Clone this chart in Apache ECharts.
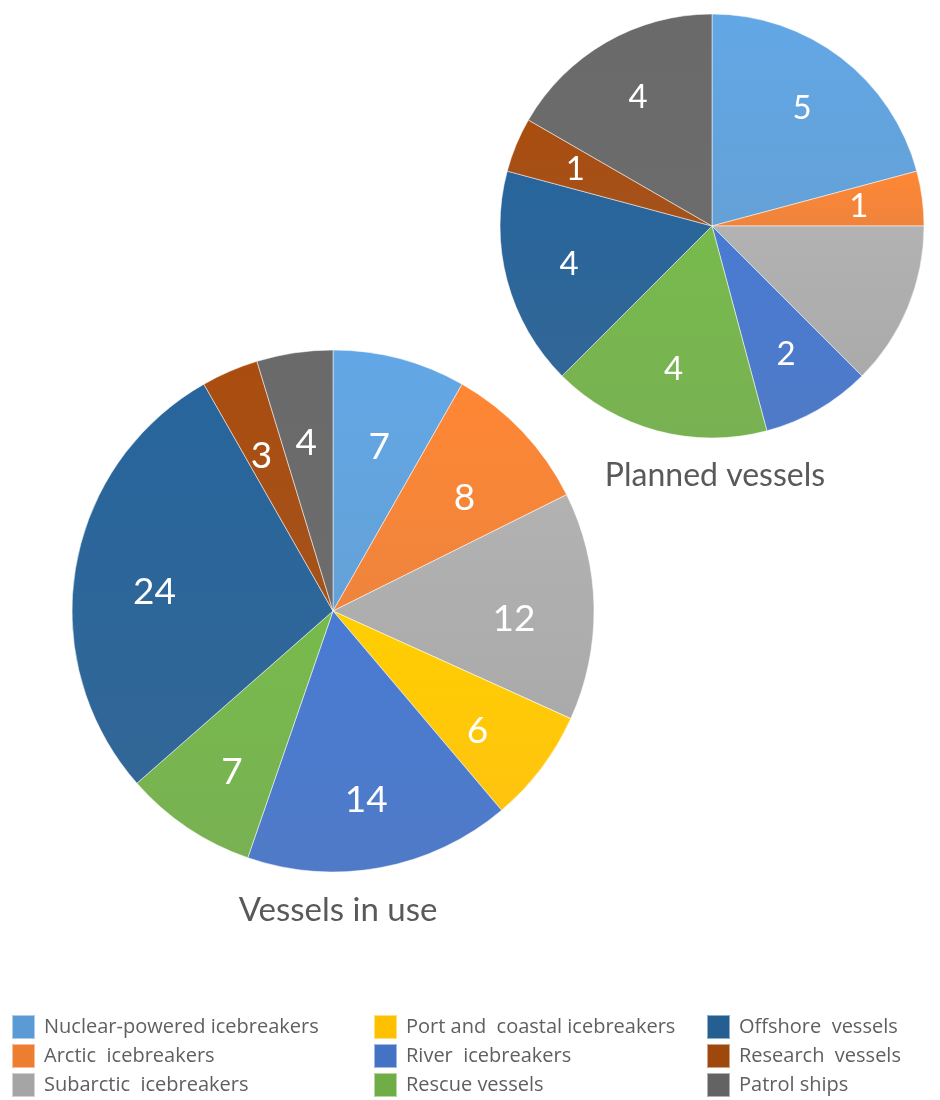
<!DOCTYPE html>
<html>
<head>
<meta charset="utf-8">
<script src="https://cdn.jsdelivr.net/npm/echarts@6/dist/echarts.min.js"></script>
<style>
  html, body { margin: 0; padding: 0; background: #fff; }
  #chart { width: 940px; height: 1100px; }
</style>
</head>
<body>
<div id="chart"></div>
<script>
// categories and values
const categories = [
  'Nuclear-powered icebreakers',
  'Arctic  icebreakers',
  'Subarctic  icebreakers',
  'Port and  coastal icebreakers',
  'River  icebreakers',
  'Rescue vessels',
  'Offshore  vessels',
  'Research  vessels',
  'Patrol ships'
]
const colors = ['#5b9bd5', '#ed7d31', '#a5a5a5', '#ffc000', '#4472c4', '#70ad47', '#255e91', '#9e480e', '#636363']
const inUse = [7, 8, 12, 6, 14, 7, 24, 3, 4]
const planned = [5, 1, 3, 0, 2, 4, 4, 1, 4]
// the subarctic slice of the planned pie carries no visible label
const plannedLabelHidden = [false, false, true, true, false, false, false, false, false]

const font = 'Lato, "Open Sans", sans-serif'

// soft top-to-bottom shading like the office chart style
const shade = (c) => ({
  type: 'linear', x: 0, y: 0, x2: 0, y2: 1,
  colorStops: [
    { offset: 0, color: echarts.color.lift(c, -0.08) },
    { offset: 1, color: echarts.color.lift(c, 0.06) }
  ]
})

// a filled pie plus a transparent ring on top that only carries the labels
const pieSeries = (values, hidden, center, radius, inner, fontSize, dy) => [
  {
    type: 'pie',
    center: center,
    radius: radius,
    startAngle: 90,
    silent: true,
    animation: false,
    label: { show: false },
    labelLine: { show: false },
    itemStyle: { borderColor: 'rgba(255,255,255,0.5)', borderWidth: 1 },
    data: values.map((v, i) => ({ name: categories[i], value: v, itemStyle: { color: shade(colors[i]) } }))
  },
  {
    type: 'pie',
    center: center,
    radius: [inner, radius],
    startAngle: 90,
    silent: true,
    animation: false,
    itemStyle: { color: 'transparent' },
    labelLine: { show: false },
    label: {
      show: true,
      position: 'inside',
      color: '#fff',
      fontSize: fontSize,
      fontFamily: font,
      offset: [0, dy],
      formatter: '{c}'
    },
    data: values.map((v, i) => ({
      name: categories[i],
      value: v,
      label: { show: !(hidden && hidden[i]) && v > 0 }
    }))
  }
]

const legendCol = (idx, left) => ({
  orient: 'vertical',
  left: left,
  top: 1014,
  width: 240,
  height: 100,
  padding: 0,
  itemWidth: 23,
  itemHeight: 24,
  itemGap: 3,
  icon: 'rect',
  selectedMode: false,
  textStyle: { fontSize: 20, color: '#5f5f5f', fontFamily: '"Open Sans", sans-serif', padding: [0, 0, 0, 4] },
  data: idx.map(i => ({ name: categories[i], itemStyle: { color: colors[i] } }))
})

const chart = echarts.init(document.getElementById('chart'))
chart.setOption({
  backgroundColor: '#fff',
  title: [
    {
      text: 'Planned vessels',
      left: 710, top: 455, textAlign: 'center',
      textStyle: { fontSize: 32, fontWeight: 'normal', color: '#595959', fontFamily: font }
    },
    {
      text: 'Vessels in use',
      left: 333, top: 889, textAlign: 'center',
      textStyle: { fontSize: 33, fontWeight: 'normal', color: '#595959', fontFamily: font }
    }
  ],
  legend: [
    legendCol([0, 1, 2], 11),
    legendCol([3, 4, 5], 373),
    legendCol([6, 7, 8], 706)
  ],
  series: [
    ...pieSeries(inUse, null, [333, 611], 261, 95, 37, 11),
    ...pieSeries(planned, plannedLabelHidden, [712, 226], 212, 78, 33, 0)
  ]
})
</script>
</body>
</html>
